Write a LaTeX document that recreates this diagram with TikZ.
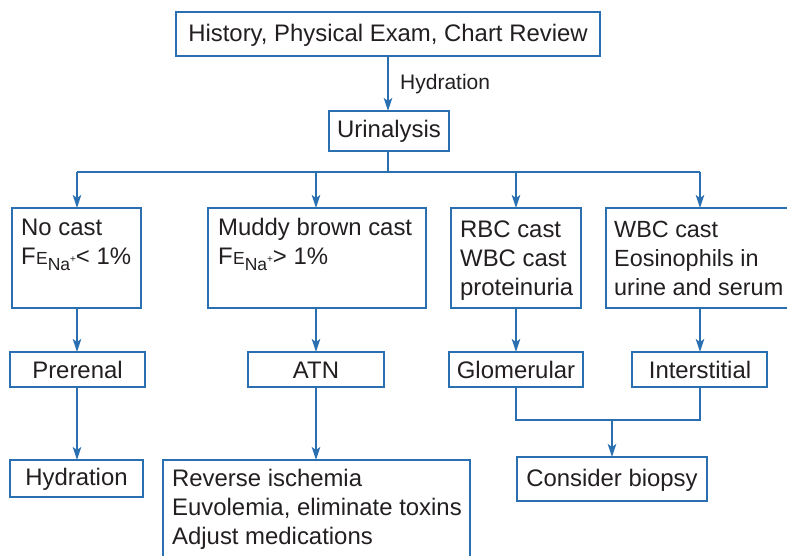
\documentclass[tikz,border=0pt]{standalone}
\usepackage{fontspec}
\setmainfont{Liberation Sans}
\usetikzlibrary{arrows.meta}
\definecolor{flowblue}{HTML}{2A6FB0}
\definecolor{ink}{HTML}{231F20}
\newcommand{\fena}{F\kern0.3pt{\fontsize{17.5}{17.5}\selectfont E}\raisebox{-5.5pt}{\fontsize{17.5}{17.5}\selectfont Na\raisebox{7.5pt}{\fontsize{10}{10}\selectfont +}}}
\tikzset{
  frame/.style={draw=flowblue, line width=1.4pt},
  txt/.style={text=ink, font=\fontsize{23.9}{29}\selectfont, inner sep=0pt},
  ltxt/.style={txt, align=left, anchor=base west},
  link/.style={draw=flowblue, line width=1.4pt},
  arr/.style={link, -{Stealth[length=13pt,width=8.5pt,inset=3pt]}}
}
\begin{document}
\begin{tikzpicture}[x=1pt,y=-1pt]
\useasboundingbox (0,0) rectangle (787,556);
\fill[white] (0,0) rectangle (787,556);
\begin{scope}
\clip (0,0) rectangle (787,556);
% top level
\draw[frame] (176,12) rectangle (600,56);
\node[txt] (hist) at (388,35) {History, Physical Exam, Chart Review};
\coordinate (histb) at (388,56);
\draw[frame] (329,111) rectangle (449,151);
\node[txt] (uri) at (389,131) {Urinalysis};
\coordinate (urit) at (388,111);
\coordinate (urib) at (388,151);
\draw[arr] (histb) -- (urit);
\node[txt, font=\fontsize{21}{24}\selectfont, anchor=base west] (hyd) at (400,90) {Hydration};

% second row: findings (anchored at the baseline of the last line)
\draw[frame] (12,208) rectangle (141,308);
\node[ltxt] (c1) at (21,265) {No cast\\\fena< 1\%};
\draw[frame] (208,208) rectangle (426,308);
\node[ltxt] (c2) at (218,265) {Muddy brown cast\\\fena> 1\%};
\draw[frame] (451,208) rectangle (581,308);
\node[ltxt] (c3) at (460,295) {RBC cast\\WBC cast\\proteinuria};
\draw[frame] (606,208) rectangle (800,308);
\node[ltxt, font=\fontsize{23.4}{29}\selectfont] (c4) at (614,295) {WBC cast\\Eosinophils in\\urine and serum};

\coordinate (s1) at (77,208);
\coordinate (s2) at (316,208);
\coordinate (s3) at (516,208);
\coordinate (s4) at (700,208);
\coordinate (split) at (388,172);
\draw[link] (urib) -- (split);
\draw[link] (77,172) -- (700,172);
\foreach \c in {s1,s2,s3,s4}
  \draw[arr] (\c |- split) -- (\c);

% third row: diagnoses
\draw[frame] (10,352) rectangle (145,387);
\node[txt] (pre) at (77.5,370) {Prerenal};
\draw[frame] (248,352) rectangle (384,387);
\node[txt] (atn) at (316,370) {ATN};
\draw[frame] (449,352) rectangle (583,387);
\node[txt] (glo) at (516,370) {Glomerular};
\draw[frame] (632,352) rectangle (767,387);
\node[txt] (int) at (700,370) {Interstitial};

\draw[arr] (77,308) -- (77,352);
\draw[arr] (316,308) -- (316,352);
\draw[arr] (516,308) -- (516,352);
\draw[arr] (700,308) -- (700,352);

% bottom row: management
\draw[frame] (10,460) rectangle (143,497);
\node[txt] (hyd2) at (76.5,479) {Hydration};
\draw[frame] (163,460) rectangle (470,575);
\node[ltxt] (mgmt) at (172,544) {Reverse ischemia\\Euvolemia, eliminate toxins\\Adjust medications};
\draw[frame] (517,457) rectangle (707,501);
\node[txt] (bio) at (612,480) {Consider biopsy};

\draw[arr] (77,387) -- (77,460);
\draw[arr] (316,387) -- (316,460);
\coordinate (join) at (612,420);
\draw[link] (516,387) -- (516,420) -- (700,420) -- (700,387);
\draw[arr] (join) -- (612,457);
\end{scope}
\end{tikzpicture}
\end{document}
